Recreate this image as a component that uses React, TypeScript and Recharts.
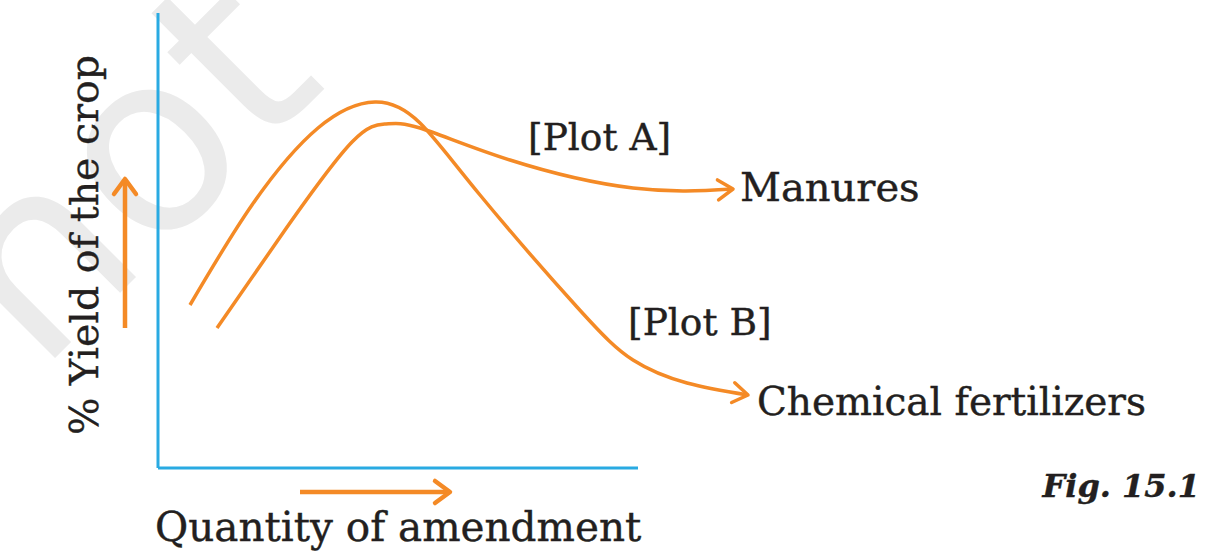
import { LineChart, Line, XAxis, YAxis, ReferenceLine } from 'recharts'

// conceptual curves, x = quantity of amendment, y = % yield (arbitrary units)
const plotAX = [59, 127, 194, 228, 262, 352, 475, 575]
const plotAY = [140, 238, 326, 344, 340, 308, 280, 279]

const plotBX = [32, 94, 160, 217, 262, 322, 419, 475, 529, 590]
const plotBY = [163, 263, 340, 366, 345, 273, 161, 108, 85, 73]

const manures = plotAX.map((x, i) => ({ x, y: plotAY[i] }))
const chemical = plotBX.map((x, i) => ({ x, y: plotBY[i] }))

const ORANGE = '#f48a26'
const BLUE = '#29aae2'
const INK = '#231f20'
const serif = '"DejaVu Serif", serif'

const label = { fontFamily: serif, fill: INK, stroke: INK, strokeWidth: 0.4 }

export default function App() {
  return (
    <div style={{ position: 'absolute', left: 0, top: 0, background: '#fff' }}>
      <svg width={0} height={0} style={{ position: 'absolute' }}>
        <defs>
          <marker id="chev" markerUnits="userSpaceOnUse" viewBox="-20 -15 30 30" markerWidth={30} markerHeight={30} refX={0} refY={0} orient="auto">
            <path d="M -15 -10 L 0 0 L -15 10" fill="none" stroke={ORANGE} strokeWidth={3.5} strokeLinecap="round" strokeLinejoin="round" />
          </marker>
          <marker id="chevBig" markerUnits="userSpaceOnUse" viewBox="-20 -15 30 30" markerWidth={30} markerHeight={30} refX={0} refY={0} orient="auto">
            <path d="M -15 -11 L 0 0 L -15 11" fill="none" stroke={ORANGE} strokeWidth={4.5} strokeLinecap="round" strokeLinejoin="round" />
          </marker>
        </defs>
      </svg>
      <LineChart width={1212} height={556} margin={{ top: 13, left: 158, right: 454, bottom: 88 }}>
        <text x={39} y={374} transform="rotate(-45 39 374)" fontFamily='"DejaVu Sans", sans-serif' fontSize={250} fill="#ebebeb">not to</text>
        <XAxis type="number" dataKey="x" domain={[0, 600]} hide />
        <YAxis type="number" dataKey="y" domain={[0, 455]} hide />
        <ReferenceLine segment={[{ x: 0, y: 0 }, { x: 0, y: 455 }]} stroke={BLUE} strokeWidth={3} ifOverflow="visible" />
        <ReferenceLine segment={[{ x: 0, y: 0 }, { x: 480, y: 0 }]} stroke={BLUE} strokeWidth={3} ifOverflow="visible" />
        <ReferenceLine segment={[{ x: -33, y: 140 }, { x: -33, y: 289 }]} stroke={ORANGE} strokeWidth={4.5} markerEnd="url(#chevBig)" ifOverflow="visible" />
        <ReferenceLine segment={[{ x: 142, y: -24 }, { x: 292, y: -24 }]} stroke={ORANGE} strokeWidth={4.5} markerEnd="url(#chevBig)" ifOverflow="visible" />
        <Line data={manures} dataKey="y" type="natural" stroke={ORANGE} strokeWidth={3.5} dot={false} activeDot={false} markerEnd="url(#chev)" isAnimationActive={false} />
        <Line data={chemical} dataKey="y" type="natural" stroke={ORANGE} strokeWidth={3.5} dot={false} activeDot={false} markerEnd="url(#chev)" isAnimationActive={false} />
        <text x={98} y={245} transform="rotate(-90 98 245)" textAnchor="middle" fontSize={39.5} {...label}>% Yield of the crop</text>
        <text x={155} y={541} fontSize={40.5} {...label}>Quantity of amendment</text>
        <text x={528} y={150} fontSize={37.5} {...label}>[Plot A]</text>
        <text x={740} y={201} fontSize={40} {...label}>Manures</text>
        <text x={628} y={335} fontSize={37.5} {...label}>[Plot B]</text>
        <text x={757} y={415} fontSize={39} {...label}>Chemical fertilizers</text>
        <text x={1200} y={497} textAnchor="end" fontSize={32} fontWeight="bold" fontStyle="italic" {...label}>Fig. 15.1</text>
      </LineChart>
    </div>
  )
}
